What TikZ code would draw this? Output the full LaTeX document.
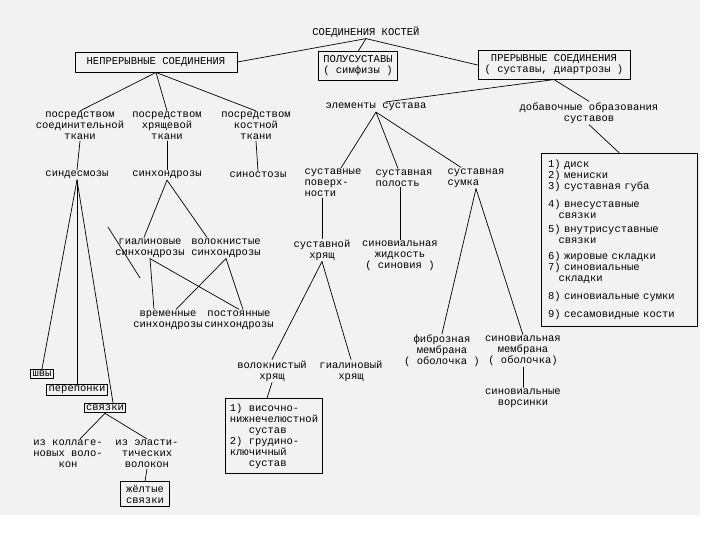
\documentclass[tikz,border=0pt]{standalone}
\usepackage{fontspec}
\setmainfont{Liberation Mono}
\begin{document}
\begin{tikzpicture}[x=1pt,y=-1pt,line cap=round,line join=round,
  font=\fontsize{10.5}{11}\selectfont,
  lbl/.style={align=center,inner sep=1pt},
  lbll/.style={align=left,inner sep=1pt},
  frame/.style={draw,line width=0.9pt,inner xsep=5pt,inner ysep=4pt},
  edge/.style={line width=0.7pt}]
  \useasboundingbox (0,0) rectangle (720,540);
  \fill[gray!10] (0,0) rectangle (700,515);
  % top level
  \node[lbl] (root) at (366,32) {СОЕДИНЕНИЯ КОСТЕЙ};
  \node[frame,minimum width=162pt,minimum height=20pt] (cont) at (156,62) {НЕПРЕРЫВНЫЕ СОЕДИНЕНИЯ};
  \node[frame,align=center] (semi) at (358,66) {ПОЛУСУСТАВЫ\\( симфизы )};
  \node[frame,align=center,minimum width=152pt] (disc) at (554,65) {ПРЕРЫВНЫЕ СОЕДИНЕНИЯ\\( суставы, диартрозы )};
  \draw[edge] (root.south) -- (cont.east);
  \draw[edge] (root.south) -- (semi.north);
  \draw[edge] (root.south) -- (disc.west);
  % continuous joints
  \node[lbl] (conn) at (80,126) {посредством\\соединительной\\ткани};
  \node[lbl] (cart) at (167,126) {посредством\\хрящевой\\ткани};
  \node[lbl] (bone) at (256,126) {посредством\\костной\\ткани};
  \draw[edge] (cont.south) -- (conn.north);
  \draw[edge] (cont.south) -- (cart.north);
  \draw[edge] (cont.south) -- (bone.north);
  \node[lbl] (syndes) at (77,175) {синдесмозы};
  \node[lbl] (synchon) at (167,175) {синхондрозы};
  \node[lbl] (synost) at (258,175) {синостозы};
  \draw[edge] (conn.south) -- (syndes.north);
  \draw[edge] (cart.south) -- (synchon.north);
  \draw[edge] (bone.south) -- (synost.north);
  % synchondroses
  \node[lbl] (hyal) at (150,248) {гиалиновые\\синхондрозы};
  \node[lbl] (fibr) at (226,248) {волокнистые\\синхондрозы};
  \node[lbl] (temp) at (168,320) {временные\\синхондрозы};
  \node[lbl] (perm) at (239,320) {постоянные\\синхондрозы};
  \draw[edge] (synchon.south) -- ([xshift=-6pt]hyal.north);
  \draw[edge] (synchon.south) -- ([xshift=-19pt]fibr.north);
  \draw[edge] (hyal.south) -- ([xshift=-14pt]temp.north);
  \draw[edge] (hyal.south) -- (perm.north);
  \draw[edge] (fibr.south) -- ([xshift=8pt]temp.north);
  \draw[edge] (fibr.south) -- ([xshift=4pt]perm.north);
  \draw[edge] (108,227) -- (140,278);
  % syndesmoses
  \node[frame,inner sep=2pt] (sut) at (42,374) {швы};
  \node[frame,inner sep=2pt] (memb) at (77,390) {перепонки};
  \node[frame,inner sep=2pt] (lig) at (105,408) {связки};
  \draw[edge] (syndes.south) -- (sut.north);
  \draw[edge] (syndes.south) -- (memb.north);
  \draw[edge] (syndes.south) -- ([xshift=8pt]lig.north);
  \node[lbl] (coll) at (68,454) {из коллаге-\\новых воло-\\кон};
  \node[lbl] (elas) at (147,454) {из эласти-\\тических\\волокон};
  \draw[edge] (lig.south) -- ([xshift=12pt]coll.north);
  \draw[edge] (lig.south) -- (elas.north);
  \node[frame,align=center,inner xsep=6pt,inner ysep=3pt] (yell) at (145,494) {жёлтые\\связки};
  \draw[edge] (elas.south) -- (yell.north);
  % joints
  \node[lbl] (elem) at (376,107) {элементы сустава};
  \node[lbl] (extra) at (589,113) {добавочные образования\\суставов};
  \draw[edge] (disc.south) -- ([xshift=10pt]elem.north);
  \draw[edge] (disc.south) -- (extra.north);
  \node[lbll] (surf) at (333,183) {суставные\\поверх-\\ности};
  \node[lbll] (cav) at (404,178) {суставная\\полость};
  \node[lbll] (caps) at (476,178) {суставная\\сумка};
  \draw[edge] (elem.south) -- ([xshift=8pt]surf.north);
  \draw[edge] (elem.south) -- ([xshift=-6pt]cav.north);
  \draw[edge] (elem.south) -- ([xshift=-15pt]caps.north);
  \node[lbl] (cartj) at (322,250) {суставной\\хрящ};
  \node[lbl] (syn) at (400,256) {синовиальная\\жидкость\\( синовия )};
  \draw[edge] (surf.south -| cartj) -- (cartj.north);
  \draw[edge] (cav.south -| syn) -- (syn.north);
  \node[lbl] (fibj) at (272,371) {волокнистый\\хрящ};
  \node[lbl] (hyj) at (351,371) {гиалиновый\\хрящ};
  \draw[edge] (cartj.south) -- (fibj.north);
  \draw[edge] (cartj.south) -- (hyj.north);
  \node[frame,align=left,inner xsep=4pt,inner ysep=5pt] (examp) at (274,436) {1) височно-\\нижнечелюстной\\\ \ \ сустав\\2) грудино-\\ключичный\\\ \ \ сустав};
  \draw[edge] (fibj.south) -- ([xshift=-7pt]examp.north);
  \node[lbl] (fibm) at (442,351) {фиброзная\\мембрана\\( оболочка )};
  \node[lbl] (synm) at (523,351) {синовиальная\\мембрана\\( оболочка)};
  \draw[edge] (caps.south) -- (fibm.north);
  \draw[edge] (caps.south) -- (synm.north);
  \node[lbl] (vill) at (523,398) {синовиальные\\ворсинки};
  \draw[edge] (synm.south) -- (vill.north);
  \node[frame,align=left,text width=142pt,inner xsep=7pt,inner ysep=7pt] (list) at (619,240) {1) диск\\2) мениски\\3) суставная губа\\[7pt]4) внесуставные\\\ \ \ связки\\[3pt]5) внутрисуставные\\\ \ \ связки\\[5pt]6) жировые складки\\7) синовиальные\\\ \ \ складки\\[7pt]8) синовиальные сумки\\[7pt]9) сесамовидные кости};
  \draw[edge] (extra.south) -- (list.north);
\end{tikzpicture}
\end{document}
